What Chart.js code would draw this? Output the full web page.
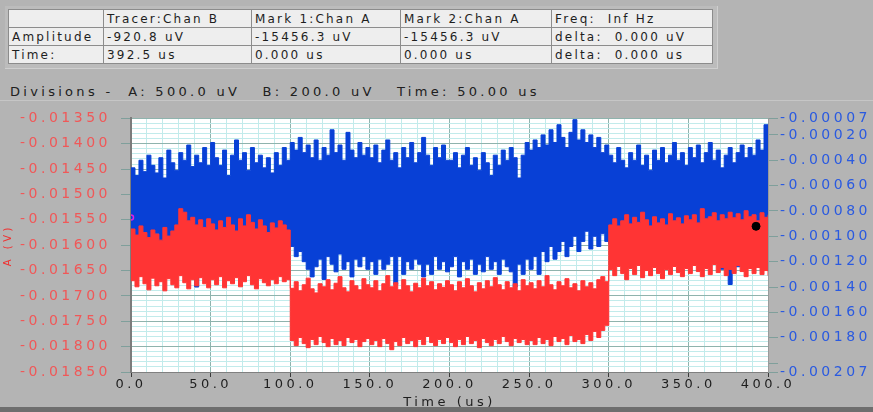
<!DOCTYPE html>
<html>
<head>
<meta charset="utf-8">
<script src="https://cdn.jsdelivr.net/npm/chart.js@4.4.0/dist/chart.umd.min.js"></script>
<style>
  html, body { margin: 0; padding: 0; }
  body { width: 873px; height: 412px; overflow: hidden; background: #b4b4b4; position: relative; font-family: 'DejaVu Sans', sans-serif; }
  .frame { position: absolute; left: 5px; top: 6px; width: 712px; height: 62px; background: #bcbcbc; border-right: 1px solid #cfcfcf; border-bottom: 1px solid #cfcfcf; }
  table.readout { position: absolute; left: 8px; top: 9px; width: 704px; table-layout: fixed; border-collapse: collapse; font-size: 12px; letter-spacing: 2.2px; color: #1e1e1e; }
  table.readout td { border: 1px solid #8c8c8c; background: #eeeeee; height: 17px; padding: 0 0 0 3px; white-space: pre; overflow: hidden; }
  .divisions { position: absolute; left: 10px; top: 84px; font-size: 13px; letter-spacing: 3.3px; color: #202020; white-space: pre; }
  .panel { position: absolute; left: 0; top: 100px; width: 873px; height: 307px; border-top: 1px solid #c6c6c6; }
  .bottom-bar { position: absolute; left: 0; top: 407px; width: 873px; height: 5px; background: #6e6e6e; }
  #wrap { position: absolute; left: 0; top: 100px; width: 873px; height: 312px; }
</style>
</head>
<body>
<div class="frame"></div>
<table class="readout">
  <colgroup><col style="width:95px"><col style="width:148px"><col style="width:149px"><col style="width:151px"><col style="width:161px"></colgroup>
  <tr><td></td><td>Tracer:Chan B</td><td>Mark 1:Chan A</td><td>Mark 2:Chan A</td><td>Freq:  Inf Hz</td></tr>
  <tr><td>Amplitude</td><td>-920.8 uV</td><td>-15456.3 uV</td><td>-15456.3 uV</td><td>delta:  0.000 uV</td></tr>
  <tr><td>Time:</td><td>392.5 us</td><td>0.000 us</td><td>0.000 us</td><td>delta:  0.000 us</td></tr>
</table>
<div class="divisions">Divisions -  A: 500.0 uV   B: 200.0 uV   Time: 50.00 us</div>
<div class="panel"></div>
<div class="bottom-bar"></div>
<div id="wrap"><canvas id="scope"></canvas></div>

<script>
// time axis samples (us), one every 2.5 us
const times = [
  0, 2.5, 5, 7.5, 10, 12.5, 15, 17.5, 20, 22.5, 25, 27.5, 30, 32.5, 35, 37.5, 40, 42.5, 45, 47.5,
  50, 52.5, 55, 57.5, 60, 62.5, 65, 67.5, 70, 72.5, 75, 77.5, 80, 82.5, 85, 87.5, 90, 92.5, 95, 97.5,
  100, 102.5, 105, 107.5, 110, 112.5, 115, 117.5, 120, 122.5, 125, 127.5, 130, 132.5, 135, 137.5, 140, 142.5, 145, 147.5,
  150, 152.5, 155, 157.5, 160, 162.5, 165, 167.5, 170, 172.5, 175, 177.5, 180, 182.5, 185, 187.5, 190, 192.5, 195, 197.5,
  200, 202.5, 205, 207.5, 210, 212.5, 215, 217.5, 220, 222.5, 225, 227.5, 230, 232.5, 235, 237.5, 240, 242.5, 245, 247.5,
  250, 252.5, 255, 257.5, 260, 262.5, 265, 267.5, 270, 272.5, 275, 277.5, 280, 282.5, 285, 287.5, 290, 292.5, 295, 297.5,
  300, 302.5, 305, 307.5, 310, 312.5, 315, 317.5, 320, 322.5, 325, 327.5, 330, 332.5, 335, 337.5, 340, 342.5, 345, 347.5,
  350, 352.5, 355, 357.5, 360, 362.5, 365, 367.5, 370, 372.5, 375, 377.5, 380, 382.5, 385, 387.5, 390, 392.5, 395, 397.5,
  400
];

// Chan A (red, left axis) noise envelope, V
const redUpper = [
  -0.01568, -0.01580, -0.01562, -0.01575, -0.01585, -0.01570, -0.01578, -0.01590, -0.01565, -0.01582, -0.01572, -0.01560, -0.01528, -0.01535, -0.01552, -0.01545, -0.01560, -0.01550, -0.01565, -0.01548,
  -0.01558, -0.01570, -0.01552, -0.01565, -0.01545, -0.01560, -0.01572, -0.01548, -0.01562, -0.01540, -0.01555, -0.01568, -0.01550, -0.01562, -0.01575, -0.01556, -0.01566, -0.01552, -0.01560, -0.01570,
  -0.01685, -0.01672, -0.01690, -0.01678, -0.01665, -0.01686, -0.01694, -0.01676, -0.01682, -0.01668, -0.01688, -0.01675, -0.01662, -0.01684, -0.01692, -0.01670, -0.01680, -0.01688, -0.01666, -0.01678,
  -0.01684, -0.01670, -0.01690, -0.01676, -0.01660, -0.01682, -0.01674, -0.01688, -0.01668, -0.01680, -0.01692, -0.01675, -0.01684, -0.01665, -0.01680, -0.01672, -0.01688, -0.01676, -0.01683, -0.01670,
  -0.01678, -0.01690, -0.01672, -0.01684, -0.01666, -0.01680, -0.01692, -0.01674, -0.01686, -0.01670, -0.01682, -0.01664, -0.01678, -0.01688, -0.01672, -0.01684, -0.01676, -0.01690, -0.01668, -0.01680,
  -0.01674, -0.01686, -0.01670, -0.01682, -0.01660, -0.01678, -0.01688, -0.01672, -0.01680, -0.01666, -0.01684, -0.01676, -0.01690, -0.01670, -0.01682, -0.01674, -0.01686, -0.01668, -0.01662, -0.01672,
  -0.01560, -0.01548, -0.01562, -0.01552, -0.01540, -0.01558, -0.01545, -0.01555, -0.01535, -0.01550, -0.01562, -0.01544, -0.01556, -0.01548, -0.01560, -0.01538, -0.01552, -0.01546, -0.01558, -0.01542,
  -0.01550, -0.01540, -0.01556, -0.01528, -0.01548, -0.01544, -0.01536, -0.01552, -0.01540, -0.01548, -0.01535, -0.01546, -0.01538, -0.01550, -0.01532, -0.01544, -0.01540, -0.01552, -0.01536, -0.01545,
  -0.01540
];
const redLower = [
  -0.01670, -0.01682, -0.01662, -0.01676, -0.01688, -0.01665, -0.01680, -0.01672, -0.01690, -0.01666, -0.01678, -0.01684, -0.01660, -0.01674, -0.01686, -0.01668, -0.01680, -0.01664, -0.01676, -0.01684,
  -0.01668, -0.01678, -0.01662, -0.01684, -0.01670, -0.01676, -0.01664, -0.01682, -0.01672, -0.01660, -0.01678, -0.01686, -0.01666, -0.01674, -0.01680, -0.01668, -0.01676, -0.01662, -0.01672, -0.01668,
  -0.01788, -0.01798, -0.01782, -0.01794, -0.01802, -0.01786, -0.01796, -0.01780, -0.01792, -0.01800, -0.01784, -0.01796, -0.01788, -0.01798, -0.01782, -0.01792, -0.01786, -0.01800, -0.01790, -0.01784,
  -0.01796, -0.01788, -0.01800, -0.01784, -0.01794, -0.01806, -0.01790, -0.01798, -0.01782, -0.01794, -0.01788, -0.01800, -0.01786, -0.01796, -0.01780, -0.01792, -0.01798, -0.01786, -0.01794, -0.01782,
  -0.01792, -0.01800, -0.01786, -0.01796, -0.01780, -0.01794, -0.01788, -0.01802, -0.01784, -0.01792, -0.01798, -0.01786, -0.01794, -0.01780, -0.01790, -0.01798, -0.01784, -0.01792, -0.01786, -0.01796,
  -0.01788, -0.01796, -0.01782, -0.01794, -0.01786, -0.01798, -0.01780, -0.01790, -0.01784, -0.01796, -0.01778, -0.01790, -0.01786, -0.01794, -0.01776, -0.01788, -0.01770, -0.01782, -0.01768, -0.01758,
  -0.01648, -0.01660, -0.01642, -0.01656, -0.01668, -0.01646, -0.01658, -0.01640, -0.01664, -0.01650, -0.01660, -0.01644, -0.01656, -0.01666, -0.01648, -0.01658, -0.01642, -0.01654, -0.01662, -0.01646,
  -0.01656, -0.01640, -0.01652, -0.01662, -0.01646, -0.01658, -0.01638, -0.01654, -0.01644, -0.01660, -0.01648, -0.01656, -0.01640, -0.01652, -0.01662, -0.01646, -0.01656, -0.01644, -0.01658, -0.01650,
  -0.01660
];

// Chan B (blue, right axis) noise envelope, V
const blueUpper = [
  -0.00046, -0.00052, -0.00040, -0.00049, -0.00036, -0.00044, -0.00050, -0.00038, -0.00054, -0.00032, -0.00042, -0.00048, -0.00034, -0.00040, -0.00028, -0.00045, -0.00036, -0.00042, -0.00030, -0.00044,
  -0.00026, -0.00038, -0.00044, -0.00032, -0.00052, -0.00036, -0.00024, -0.00040, -0.00034, -0.00048, -0.00030, -0.00042, -0.00036, -0.00046, -0.00038, -0.00050, -0.00034, -0.00044, -0.00030, -0.00040,
  -0.00026, -0.00032, -0.00022, -0.00034, -0.00028, -0.00038, -0.00024, -0.00040, -0.00030, -0.00036, -0.00016, -0.00034, -0.00028, -0.00040, -0.00018, -0.00032, -0.00038, -0.00026, -0.00036, -0.00030,
  -0.00038, -0.00028, -0.00042, -0.00032, -0.00024, -0.00040, -0.00034, -0.00046, -0.00030, -0.00038, -0.00026, -0.00042, -0.00034, -0.00022, -0.00036, -0.00044, -0.00030, -0.00038, -0.00028, -0.00040,
  -0.00040, -0.00034, -0.00046, -0.00036, -0.00030, -0.00044, -0.00038, -0.00048, -0.00034, -0.00042, -0.00052, -0.00036, -0.00044, -0.00032, -0.00040, -0.00030, -0.00038, -0.00054, -0.00036, -0.00026,
  -0.00032, -0.00024, -0.00030, -0.00020, -0.00028, -0.00016, -0.00026, -0.00012, -0.00022, -0.00030, -0.00018, -0.00008, -0.00024, -0.00016, -0.00026, -0.00020, -0.00030, -0.00022, -0.00034, -0.00028,
  -0.00036, -0.00042, -0.00030, -0.00040, -0.00046, -0.00034, -0.00040, -0.00028, -0.00044, -0.00036, -0.00048, -0.00032, -0.00040, -0.00030, -0.00042, -0.00036, -0.00026, -0.00040, -0.00034, -0.00044,
  -0.00030, -0.00038, -0.00028, -0.00042, -0.00034, -0.00026, -0.00040, -0.00032, -0.00046, -0.00036, -0.00030, -0.00042, -0.00034, -0.00028, -0.00038, -0.00030, -0.00036, -0.00024, -0.00032, -0.00012,
  -0.00030
];
const blueLower = [
  -0.00106, -0.00114, -0.00100, -0.00118, -0.00108, -0.00112, -0.00098, -0.00116, -0.00106, -0.00120, -0.00104, -0.00112, -0.00100, -0.00114, -0.00108, -0.00118, -0.00140, -0.00110, -0.00104, -0.00116,
  -0.00108, -0.00118, -0.00130, -0.00112, -0.00104, -0.00116, -0.00110, -0.00120, -0.00106, -0.00114, -0.00128, -0.00110, -0.00118, -0.00104, -0.00112, -0.00120, -0.00108, -0.00116, -0.00110, -0.00106,
  -0.00108, -0.00116, -0.00112, -0.00120, -0.00126, -0.00132, -0.00124, -0.00118, -0.00134, -0.00116, -0.00122, -0.00128, -0.00114, -0.00126, -0.00120, -0.00132, -0.00118, -0.00124, -0.00116, -0.00126,
  -0.00120, -0.00130, -0.00118, -0.00126, -0.00122, -0.00116, -0.00138, -0.00116, -0.00130, -0.00120, -0.00126, -0.00118, -0.00122, -0.00132, -0.00122, -0.00130, -0.00116, -0.00126, -0.00120, -0.00128,
  -0.00124, -0.00116, -0.00132, -0.00120, -0.00126, -0.00118, -0.00130, -0.00122, -0.00128, -0.00116, -0.00126, -0.00120, -0.00130, -0.00118, -0.00124, -0.00128, -0.00140, -0.00122, -0.00130, -0.00118,
  -0.00126, -0.00116, -0.00130, -0.00112, -0.00120, -0.00108, -0.00118, -0.00112, -0.00104, -0.00116, -0.00108, -0.00100, -0.00112, -0.00104, -0.00096, -0.00110, -0.00100, -0.00108, -0.00098, -0.00104,
  -0.00106, -0.00114, -0.00102, -0.00118, -0.00108, -0.00112, -0.00100, -0.00116, -0.00106, -0.00120, -0.00104, -0.00112, -0.00108, -0.00116, -0.00102, -0.00110, -0.00118, -0.00106, -0.00112, -0.00104,
  -0.00110, -0.00116, -0.00104, -0.00112, -0.00106, -0.00118, -0.00108, -0.00114, -0.00126, -0.00110, -0.00138, -0.00116, -0.00124, -0.00108, -0.00114, -0.00104, -0.00112, -0.00106, -0.00116, -0.00108,
  -0.00110
];

// cursors (time us, amplitude V)
const tracerPoint = [392.5, -0.0009208];
const mark1Point = [0, -0.0154563];

// axis ticks
const timeMajorTicks = [0, 50, 100, 150, 200, 250, 300, 350, 400];
const leftMajorTicks = [-0.0185, -0.018, -0.0175, -0.017, -0.0165, -0.016, -0.0155, -0.015, -0.0145, -0.014, -0.0135];
const rightTicks = [-0.00207, -0.002, -0.0018, -0.0016, -0.0014, -0.0012, -0.001, -0.0008, -0.0006, -0.0004, -0.0002, -0.00007];
const rightTickLabels = ['-0.00207', '', '-0.00180', '-0.00160', '-0.00140', '-0.00120', '-0.00100', '-0.00080', '-0.00060', '-0.00040', '-0.00020', '-0.00007'];

const RED = '#ff3434';
const BLUE = '#0840d6';
const GRID_MAJOR = '#8fb3ad';
const GRID_MINOR = '#c2ebeb';
const SPACING = '3.5px';

// majors plus evenly split minor lines between them
function withMinor(majors, parts) {
  const out = [];
  majors.forEach((v, i) => {
    out.push({ value: v, major: true });
    if (i < majors.length - 1) {
      const step = (majors[i + 1] - v) / parts;
      for (let k = 1; k < parts; k++) out.push({ value: v + step * k, major: false });
    }
  });
  return out;
}

const toPts = (ys) => times.map((t, i) => ({ x: t, y: ys[i] }));
const isMajor = (c) => c.tick && c.tick.major;

const scopePlugin = {
  id: 'scopeLook',
  beforeUpdate(chart) {
    chart.ctx.letterSpacing = SPACING;
  },
  beforeDraw(chart) {
    const { ctx, chartArea: a } = chart;
    ctx.letterSpacing = SPACING;
    ctx.save();
    ctx.fillStyle = '#ffffff';
    ctx.fillRect(a.left, a.top, a.width, a.height);
    ctx.restore();
  }
};

const band = (ys, color, axis, fill, order) => ({
  data: toPts(ys),
  yAxisID: axis,
  borderColor: color,
  backgroundColor: color,
  borderWidth: 1,
  pointRadius: 0,
  stepped: 'before',
  fill: fill,
  order: order
});

new Chart(document.getElementById('scope'), {
  type: 'line',
  data: {
    datasets: [
      { data: [{ x: tracerPoint[0], y: tracerPoint[1] }], yAxisID: 'yB', showLine: false, pointRadius: 4, pointBackgroundColor: '#000', pointBorderColor: '#000', order: -2 },
      { data: [{ x: mark1Point[0], y: mark1Point[1] }], yAxisID: 'yA', showLine: false, pointRadius: 2.5, pointBackgroundColor: 'rgba(0,0,0,0)', pointBorderColor: '#e020e0', pointBorderWidth: 1.5, order: -1 },
      band(redUpper, RED, 'yA', '+1', 0),
      band(redLower, RED, 'yA', false, 0),
      band(blueUpper, BLUE, 'yB', '+1', 1),
      band(blueLower, BLUE, 'yB', false, 1)
    ]
  },
  options: {
    responsive: true,
    maintainAspectRatio: false,
    animation: false,
    layout: { padding: { top: 15, left: 0, right: 0, bottom: 0 } },
    plugins: { legend: { display: false }, tooltip: { enabled: false } },
    scales: {
      x: {
        type: 'linear',
        min: 0,
        max: 400,
        afterBuildTicks: (s) => { s.ticks = withMinor(timeMajorTicks, 5); },
        afterFit: (s) => { s.height = 40; },
        ticks: {
          autoSkip: false,
          maxRotation: 0,
          padding: 0,
          color: '#1e1e1e',
          font: { family: 'DejaVu Sans', size: 13 },
          callback: (v, i, ticks) => ticks[i].major ? v.toFixed(1) : ''
        },
        grid: {
          color: (c) => isMajor(c) ? GRID_MAJOR : GRID_MINOR,
          tickColor: (c) => isMajor(c) ? '#3a3a3a' : 'rgba(0,0,0,0)',
          tickLength: 5
        },
        border: { color: '#808080', width: 1 },
        title: { display: true, text: 'Time (us)', color: '#1e1e1e', font: { family: 'DejaVu Sans', size: 13 }, padding: { top: 0, bottom: 2 } }
      },
      yA: {
        type: 'linear',
        position: 'left',
        min: -0.0185,
        max: -0.0135,
        afterBuildTicks: (s) => { s.ticks = withMinor(leftMajorTicks, 5); },
        afterFit: (s) => { s.width = 131; },
        ticks: {
          autoSkip: false,
          padding: 10,
          color: '#f05858',
          font: { family: 'DejaVu Sans', size: 14 },
          callback: (v, i, ticks) => ticks[i].major ? v.toFixed(5) : ''
        },
        grid: {
          color: (c) => isMajor(c) ? GRID_MAJOR : GRID_MINOR,
          tickColor: (c) => isMajor(c) ? '#7f9f9b' : 'rgba(0,0,0,0)',
          tickLength: 10
        },
        border: { color: '#7c7c7c', width: 2 },
        title: { display: true, text: 'A (V)', color: '#f03030', font: { family: 'DejaVu Sans', size: 10 }, padding: { top: 2, bottom: 0 } }
      },
      yB: {
        type: 'linear',
        position: 'right',
        min: -0.00207,
        max: -0.00007,
        afterBuildTicks: (s) => { s.ticks = rightTicks.map(v => ({ value: v })); },
        afterFit: (s) => { s.width = 105; },
        ticks: {
          autoSkip: false,
          padding: 2,
          color: '#2a5ae0',
          font: { family: 'DejaVu Sans', size: 14 },
          callback: (v, i) => rightTickLabels[i]
        },
        grid: { drawOnChartArea: false, tickColor: '#7f9f9b', tickLength: 10 },
        border: { color: '#9a9a9a', width: 1 }
      }
    }
  },
  plugins: [scopePlugin]
});
</script>
</body>
</html>
